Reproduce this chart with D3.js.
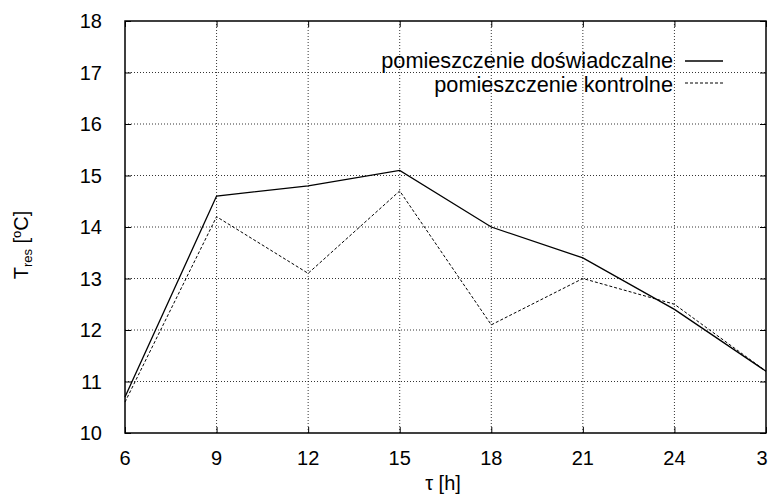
<!DOCTYPE html>
<html>
<head>
<meta charset="utf-8">
<script src="https://cdn.jsdelivr.net/npm/d3@7"></script>
<style>
  body { margin: 0; background: #fff; }
  text { font-family: "Liberation Sans", Arial, sans-serif; fill: #000; }
</style>
</head>
<body>
<div id="chart"></div>
<script>
const hours = ["6", "9", "12", "15", "18", "21", "24", "3"]
const experimental = [10.7, 14.6, 14.8, 15.1, 14.0, 13.4, 12.4, 11.2]
const control = [10.6, 14.2, 13.1, 14.7, 12.1, 13.0, 12.5, 11.2]
const yTicks = [10, 11, 12, 13, 14, 15, 16, 17, 18]
const seriesNames = ["pomieszczenie doświadczalne", "pomieszczenie kontrolne"]

const width = 768
const height = 494
const margin = { top: 21, right: 2, bottom: 61, left: 125 }
const fontSize = 20

const svg = d3.select("#chart").append("svg")
    .attr("width", width)
    .attr("height", height)

const x = d3.scalePoint()
    .domain(hours)
    .range([margin.left, width - margin.right])

const y = d3.scaleLinear()
    .domain([10, 18])
    .range([height - margin.bottom, margin.top])

const plotW = width - margin.right - margin.left
const plotH = height - margin.bottom - margin.top

// grid
const grid = svg.append("g")
    .attr("stroke", "#000")
    .attr("stroke-width", 0.8)
    .attr("stroke-dasharray", "1,2")
grid.selectAll(".gx")
    .data(hours.slice(1, -1))
    .enter().append("line")
    .attr("x1", d => x(d)).attr("x2", d => x(d))
    .attr("y1", margin.top).attr("y2", height - margin.bottom)
grid.selectAll(".gy")
    .data(yTicks.slice(1, -1))
    .enter().append("line")
    .attr("x1", margin.left).attr("x2", width - margin.right)
    .attr("y1", d => y(d)).attr("y2", d => y(d))

// axes: inward ticks on all four sides
const tickLen = 6
svg.append("g")
    .attr("transform", `translate(${margin.left},0)`)
    .call(d3.axisRight(y).tickValues(yTicks).tickSize(tickLen).tickFormat(""))
svg.append("g")
    .attr("transform", `translate(${width - margin.right},0)`)
    .call(d3.axisLeft(y).tickValues(yTicks).tickSize(tickLen).tickFormat(""))
svg.append("g")
    .attr("transform", `translate(0,${height - margin.bottom})`)
    .call(d3.axisTop(x).tickSize(tickLen).tickFormat(""))
svg.append("g")
    .attr("transform", `translate(0,${margin.top})`)
    .call(d3.axisBottom(x).tickSize(tickLen).tickFormat(""))
svg.selectAll(".domain").remove()
svg.selectAll(".tick line").attr("stroke", "#000").attr("stroke-width", 1)

svg.append("rect")
    .attr("x", margin.left).attr("y", margin.top)
    .attr("width", plotW).attr("height", plotH)
    .attr("fill", "none")
    .attr("stroke", "#000")
    .attr("stroke-width", 1.5)

// tick labels
svg.append("g").selectAll("text")
    .data(yTicks)
    .enter().append("text")
    .attr("x", 102)
    .attr("y", d => y(d))
    .attr("dy", "0.35em")
    .attr("text-anchor", "end")
    .attr("font-size", fontSize)
    .text(d => d)
svg.append("g").selectAll("text")
    .data(hours)
    .enter().append("text")
    .attr("x", d => Math.min(x(d), width - 6))
    .attr("y", 458)
    .attr("dy", "0.35em")
    .attr("text-anchor", "middle")
    .attr("font-size", fontSize)
    .text(d => d)

// axis titles
svg.append("text")
    .attr("x", 443).attr("y", 483)
    .attr("dy", "0.35em")
    .attr("text-anchor", "middle")
    .attr("font-size", fontSize)
    .text("τ [h]")

const yTitle = svg.append("text")
    .attr("transform", "translate(21,245) rotate(-90)")
    .attr("text-anchor", "middle")
    .attr("dy", "0.35em")
    .attr("font-size", fontSize)
yTitle.append("tspan").text("T")
yTitle.append("tspan").attr("font-size", 13).attr("dy", 4).text("res")
yTitle.append("tspan").attr("dy", -4).text(" [")
yTitle.append("tspan").attr("font-size", 13).attr("dy", -7).text("o")
yTitle.append("tspan").attr("dy", 7).text("C]")

// lines
const line = d3.line()
    .x((d, i) => x(hours[i]))
    .y(d => y(d))

svg.append("path")
    .datum(experimental)
    .attr("d", line)
    .attr("fill", "none")
    .attr("stroke", "#000")
    .attr("stroke-width", 1.3)

svg.append("path")
    .datum(control)
    .attr("d", line)
    .attr("fill", "none")
    .attr("stroke", "#000")
    .attr("stroke-width", 1)
    .attr("stroke-dasharray", "3,2")

// legend
const legend = svg.append("g")
const legendRows = [
    { name: seriesNames[0], dash: null, width: 1.3 },
    { name: seriesNames[1], dash: "3,2", width: 1 }
]
legendRows.forEach((r, i) => {
    legend.append("text")
        .attr("x", 673).attr("y", 60 + i * 24)
        .attr("dy", "0.35em")
        .attr("text-anchor", "end")
        .attr("font-size", 21.7)
        .text(r.name)
    legend.append("line")
        .attr("x1", 685).attr("x2", 723)
        .attr("y1", 61 + i * 22).attr("y2", 61 + i * 22)
        .attr("stroke", "#000")
        .attr("stroke-width", r.width)
        .attr("stroke-dasharray", r.dash)
})
</script>
</body>
</html>
